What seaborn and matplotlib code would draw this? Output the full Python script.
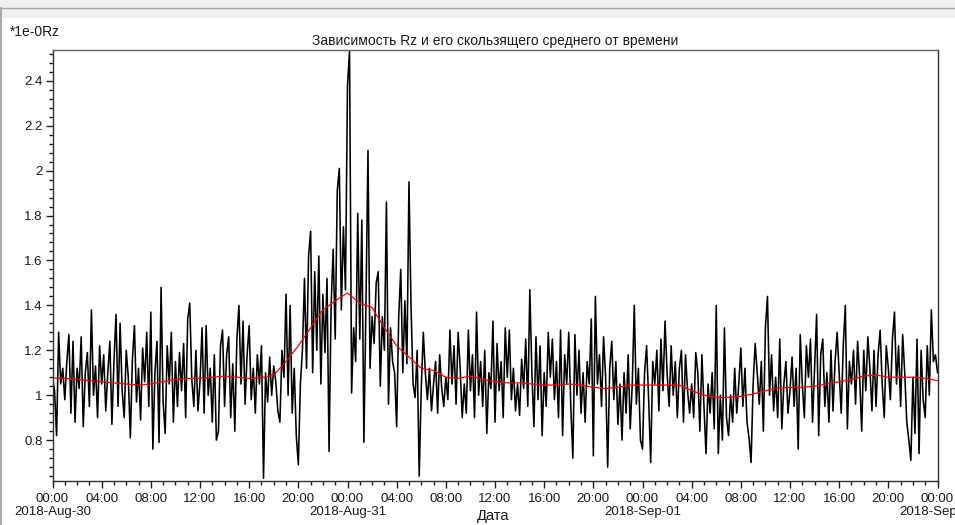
import matplotlib
matplotlib.use("Agg")
import matplotlib.pyplot as plt
import matplotlib.dates as mdates
import matplotlib.transforms as mtransforms
from matplotlib.ticker import MultipleLocator, FuncFormatter
from matplotlib.patches import Rectangle
from matplotlib.lines import Line2D
import numpy as np
import pandas as pd
import seaborn as sns

# Rz samples every 10 minutes, one list per day
rz_aug30 = [
    1.08, 1.02, 0.82, 1.28, 1.05, 1.12, 0.98, 1.15, 1.27, 0.92, 1.24, 0.88, 1.12, 1.03, 1.26, 0.86, 1.10, 1.19, 0.95, 1.38, 1.00, 1.13, 0.90, 1.22,
    1.05, 1.18, 0.93, 1.10, 1.24, 0.87, 1.15, 1.36, 0.95, 1.32, 1.02, 0.90, 1.20, 1.08, 0.81, 1.16, 1.31, 0.97, 1.12, 0.89, 1.21, 1.06, 1.28, 0.95,
    1.37, 0.76, 1.10, 1.24, 0.79, 1.48, 0.97, 0.83, 1.22, 1.05, 1.28, 0.88, 1.15, 0.95, 1.19, 1.02, 1.23, 0.90, 1.34, 1.41, 1.07, 0.95, 1.20, 0.93,
    1.06, 1.30, 0.92, 1.31, 1.00, 1.12, 0.88, 1.18, 0.80, 0.84, 1.22, 1.29, 0.95, 1.18, 1.26, 0.90, 1.14, 0.84, 1.25, 1.40, 1.05, 1.33, 0.96, 1.18,
    1.31, 0.98, 1.12, 0.92, 1.18, 1.05, 1.22, 0.63, 1.10, 0.97, 1.17, 1.00, 1.13, 1.06, 0.93, 0.88, 1.20, 1.08, 1.45, 1.00, 1.40, 0.92, 1.12, 0.82,
    0.69, 1.05, 1.20, 1.52, 1.12, 1.62, 1.73, 1.10, 1.55, 1.20, 1.62, 1.05, 1.45, 1.19, 1.52, 0.75, 1.40, 1.65, 1.25, 1.91, 2.01, 1.38, 1.75, 1.47,
]
rz_aug31 = [
    2.38, 2.53, 1.01, 1.30, 1.15, 1.81, 1.25, 1.78, 0.79, 1.40, 2.09, 1.12, 1.35, 1.23, 1.50, 1.55, 1.04, 1.35, 1.20, 1.86, 0.96, 1.30, 1.15, 1.10,
    0.86, 1.35, 1.56, 1.10, 1.42, 1.14, 1.95, 1.40, 1.05, 0.99, 1.20, 0.64, 1.03, 1.28, 1.10, 0.98, 1.12, 0.93, 1.05, 1.15, 0.92, 1.18, 1.03, 0.95,
    1.08, 0.98, 1.29, 1.05, 1.22, 0.96, 1.28, 1.12, 0.90, 1.05, 0.92, 1.29, 1.02, 1.18, 0.90, 1.37, 1.00, 1.15, 0.95, 1.20, 0.83, 1.10, 1.03, 1.33,
    0.88, 1.23, 1.02, 1.15, 0.90, 1.30, 1.08, 1.29, 0.98, 1.12, 0.93, 1.05, 0.91, 1.16, 1.03, 1.25, 0.95, 1.47, 1.10, 0.86, 1.26, 0.98, 1.22, 0.82,
    1.10, 0.95, 1.28, 1.08, 1.25, 0.98, 1.15, 0.90, 1.29, 0.82, 1.18, 1.05, 1.28, 0.95, 0.72, 1.27, 1.00, 1.20, 0.92, 1.10, 0.88, 1.15, 1.05, 1.34,
    0.73, 1.44, 1.05, 1.18, 0.95, 1.26, 1.08, 0.68, 1.12, 1.24, 0.98, 1.15, 0.87, 1.05, 0.80, 1.10, 0.92, 1.18, 0.85, 1.05, 1.40, 0.96, 1.12, 0.80,
]
rz_sep01 = [
    0.76, 1.10, 1.22, 0.98, 0.70, 1.15, 1.05, 1.20, 0.93, 1.25, 1.02, 1.33, 1.10, 0.95, 1.22, 1.00, 1.15, 0.90, 1.12, 1.20, 0.88, 1.18, 1.02, 0.92,
    1.05, 0.90, 1.19, 1.10, 0.84, 1.18, 0.95, 0.74, 1.05, 0.92, 1.10, 0.85, 1.40, 0.74, 1.00, 0.80, 1.30, 0.90, 0.82, 1.00, 0.88, 1.12, 0.92, 1.05,
    1.21, 0.95, 1.12, 0.88, 0.81, 0.70, 1.05, 1.23, 1.10, 0.96, 1.15, 0.84, 1.30, 1.44, 1.00, 1.18, 0.93, 1.08, 0.90, 1.25, 0.85, 1.05, 1.15, 0.92,
    1.02, 1.17, 0.95, 1.12, 0.76, 1.27, 1.05, 0.90, 1.22, 1.08, 1.25, 0.88, 1.12, 1.36, 0.82, 1.18, 1.25, 0.95, 1.10, 0.88, 1.20, 0.93, 1.15, 1.28,
    1.10, 0.92, 1.22, 1.40, 0.85, 1.15, 1.05, 1.20, 0.96, 1.24, 1.08, 0.84, 1.20, 1.02, 1.26, 1.12, 0.93, 1.20, 0.95, 1.18, 1.29, 1.05, 0.90, 1.22,
    1.12, 0.98, 1.25, 1.37, 1.05, 1.22, 0.95, 1.27, 1.10, 0.88, 0.80, 0.71, 1.08, 0.83, 1.25, 0.74, 1.20, 0.98, 0.90, 1.22, 1.00, 1.38, 1.15, 1.18,
]
rz_sep02 = [1.10]

# Moving average of Rz, hourly
rz_moving_avg = [
    1.077, 1.075, 1.070, 1.065, 1.060, 1.055, 1.050, 1.045, 1.050, 1.060, 1.070, 1.075,
    1.075, 1.080, 1.085, 1.080, 1.075, 1.078, 1.090, 1.150, 1.220, 1.300, 1.380, 1.420,
    1.455, 1.410, 1.390, 1.300, 1.220, 1.170, 1.120, 1.110, 1.080, 1.075, 1.085, 1.070,
    1.060, 1.055, 1.055, 1.050, 1.045, 1.045, 1.050, 1.045, 1.035, 1.030, 1.035, 1.045,
    1.045, 1.045, 1.045, 1.045, 1.020, 1.000, 0.990, 0.990, 0.995, 1.005, 1.020, 1.030,
    1.035, 1.035, 1.040, 1.050, 1.060, 1.070, 1.085, 1.090, 1.080, 1.080, 1.080, 1.075,
    1.065,
]

# day labels shown under each midnight tick
day_labels = ["2018-Aug-30", "2018-Aug-31", "2018-Sep-01", "2018-Sep-02"]

title_text = "Зависимость Rz и его скользящего среднего от времени"
y_label_text = "*1e-0Rz"
x_label_text = "Дата"

rz = rz_aug30 + rz_aug31 + rz_sep01 + rz_sep02
raw = pd.DataFrame({
    "time": pd.date_range("2018-08-30 00:00", periods=len(rz), freq="10min"),
    "rz": rz,
})
avg = pd.DataFrame({
    "time": pd.date_range("2018-08-30 00:00", periods=len(rz_moving_avg), freq="1h"),
    "rz": rz_moving_avg,
})
midnights = pd.date_range("2018-08-30 00:00", periods=len(day_labels), freq="1D")

sns.set_style("white")
plt.rcParams["font.family"] = ["Liberation Sans", "DejaVu Sans"]

W, H = 955, 525
fig = plt.figure(figsize=(W / 100, H / 100), dpi=100, facecolor="white")

# window chrome along the top and left edge
fig.patches.append(Rectangle((0, 1 - 18 / H), 1, 18 / H, transform=fig.transFigure,
                             facecolor="#f0f0f0", edgecolor="none", zorder=0))
fig.lines.append(Line2D([0, 1], [1 - 7.5 / H, 1 - 7.5 / H], transform=fig.transFigure,
                        color="#a8a8a8", lw=1.0))
fig.lines.append(Line2D([1 / W, 1 / W], [0, 1 - 8 / H], transform=fig.transFigure,
                        color="#a8a8a8", lw=1.5))

left, right, top, bottom = 52.5, 937.5, 50, 481
ax = fig.add_axes([left / W, 1 - bottom / H, (right - left) / W, (bottom - top) / H])
ax.set_facecolor("white")

sns.lineplot(data=raw, x="time", y="rz", ax=ax, color="black", lw=1.15, estimator=None)
sns.lineplot(data=avg, x="time", y="rz", ax=ax, color="#ff0000", lw=0.9, estimator=None)

ax.set_xlim(pd.Timestamp("2018-08-30 00:00"), pd.Timestamp("2018-09-02 00:00"))
ax.set_ylim(0.618, 2.537)

ax.yaxis.set_major_locator(MultipleLocator(0.2))
ax.yaxis.set_minor_locator(MultipleLocator(0.04))
ax.yaxis.set_major_formatter(FuncFormatter(lambda v, p: f"{v:.1f}".rstrip("0").rstrip(".")))

ax.xaxis.set_major_locator(mdates.HourLocator(byhour=range(0, 24, 4)))
ax.xaxis.set_minor_locator(mdates.HourLocator())
ax.xaxis.set_major_formatter(mdates.DateFormatter("%H:%M"))

ax.tick_params(axis="both", which="major", direction="out", length=5, width=1,
               color="#202020", labelsize=9.5, labelcolor="#1a1a1a", pad=2,
               left=True, bottom=True)
ax.tick_params(axis="both", which="minor", direction="out", length=3, width=1,
               color="#202020", left=True, bottom=True)
ax.tick_params(axis="x", which="major", pad=4)

# date line beneath the midnight ticks
date_tf = mtransforms.blended_transform_factory(ax.transData, fig.transFigure)
for t, lab in zip(midnights, day_labels):
    ax.text(mdates.date2num(t), 1 - 512 / H, lab, transform=date_tf, ha="center",
            va="center", fontsize=9.5, color="#1a1a1a", clip_on=False)

for side in ["left", "bottom", "right", "top"]:
    ax.spines[side].set_visible(True)
    ax.spines[side].set_color("#303030")
    ax.spines[side].set_linewidth(1.0)
ax.spines["top"].set_color("#606060")

ax.set_xlabel("")
ax.set_ylabel("")

fig.text(495 / W, 1 - 41 / H, title_text, ha="center", va="center", fontsize=10, color="#1a1a1a")
fig.text(10 / W, 1 - 32 / H, y_label_text, ha="left", va="center", fontsize=10, color="#1a1a1a")
fig.text(493 / W, 1 - 516 / H, x_label_text, ha="center", va="center", fontsize=10.5, color="#1a1a1a")

fig.savefig("out.png", dpi=100, facecolor="white")
